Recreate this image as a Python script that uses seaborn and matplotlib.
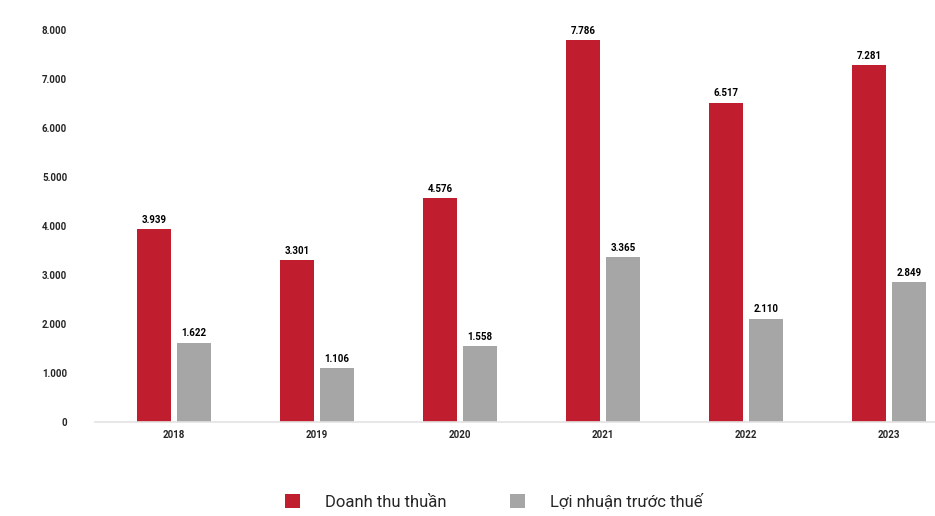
import pandas as pd
import matplotlib
matplotlib.use("Agg")
import matplotlib.pyplot as plt
import seaborn as sns

# Dữ liệu (tỷ đồng)
nam = ["2018", "2019", "2020", "2021", "2022", "2023"]
doanh_thu = [3939, 3301, 4576, 7786, 6517, 7281]
loi_nhuan = [1622, 1106, 1558, 3365, 2110, 2849]
ten_chuoi = ["Doanh thu thuần", "Lợi nhuận trước thuế"]
y_ticks = [0, 1000, 2000, 3000, 4000, 5000, 6000, 7000, 8000]

df = pd.DataFrame({
    "Năm": nam * 2,
    "Giá trị": doanh_thu + loi_nhuan,
    "Chỉ tiêu": [ten_chuoi[0]] * len(nam) + [ten_chuoi[1]] * len(nam),
})

sns.set_theme(style="white")
plt.rcParams["font.family"] = ["Roboto", "DejaVu Sans"]


def dinh_dang(v):
    return f"{v:,.0f}".replace(",", ".")


fig = plt.figure(figsize=(9.35, 5.16), dpi=100)
ax = fig.add_axes([0.1016, 0.182, 0.898, 0.760])

sns.barplot(data=df, x="Năm", y="Giá trị", hue="Chỉ tiêu",
            palette=["#C01E2E", "#A6A6A6"], width=0.56, gap=0.15,
            saturation=1, linewidth=0, ax=ax)

for c in ax.containers:
    ax.bar_label(c, labels=[dinh_dang(v) for v in c.datavalues],
                 padding=3, fontsize=7, fontweight="bold", color="black")

ax.set_ylim(0, 8000)
ax.set_xlim(-0.552, 5.32)
ax.set_yticks(y_ticks)
ax.set_yticklabels([dinh_dang(v) for v in y_ticks])
ax.tick_params(axis="y", length=0, pad=20, labelsize=7)
ax.tick_params(axis="x", length=0, pad=6, labelsize=7)
for lab in ax.get_xticklabels() + ax.get_yticklabels():
    lab.set_fontweight("bold")
ax.set_xlabel("")
ax.set_ylabel("")
for s in ["top", "right", "left"]:
    ax.spines[s].set_visible(False)
ax.spines["bottom"].set_color("#E3E3E3")
ax.spines["bottom"].set_linewidth(1.2)

handles, labels = ax.get_legend_handles_labels()
ax.get_legend().remove()
fig.legend(handles, labels, loc="lower left", bbox_to_anchor=(0.305, 0.012),
           ncol=2, frameon=False, fontsize=12, handlelength=0.9,
           handleheight=0.9, columnspacing=3.8, handletextpad=1.5,
           borderpad=0, borderaxespad=0)

fig.savefig("out.png", dpi=100)
